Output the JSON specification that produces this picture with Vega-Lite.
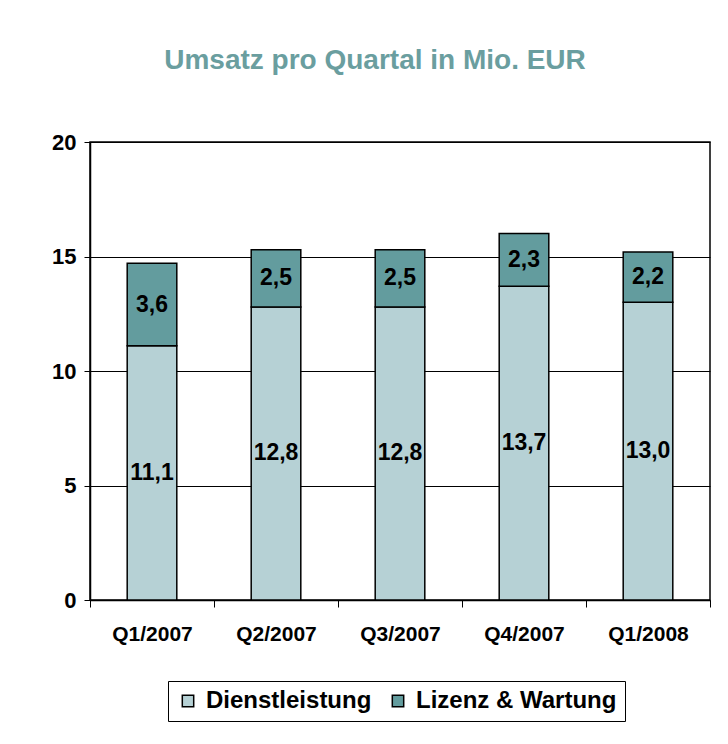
{
  "$schema": "https://vega.github.io/schema/vega-lite/v6.json",
  "width": 620,
  "height": 458,
  "autosize": {"type": "none"},
  "padding": {"left": 90, "top": 142, "right": 18, "bottom": 144},
  "background": "white",
  "title": {
    "text": "Umsatz pro Quartal in Mio. EUR",
    "font": "Liberation Sans",
    "fontSize": 28,
    "fontWeight": "bold",
    "color": "#6A9E9F",
    "anchor": "middle",
    "dx": -25,
    "offset": 56
  },
  "data": {
    "values": [
      {"quartal": "Q1/2007", "kategorie": "Dienstleistung", "wert": 11.1, "ord": 1},
      {"quartal": "Q1/2007", "kategorie": "Lizenz & Wartung", "wert": 3.6, "ord": 2},
      {"quartal": "Q2/2007", "kategorie": "Dienstleistung", "wert": 12.8, "ord": 1},
      {"quartal": "Q2/2007", "kategorie": "Lizenz & Wartung", "wert": 2.5, "ord": 2},
      {"quartal": "Q3/2007", "kategorie": "Dienstleistung", "wert": 12.8, "ord": 1},
      {"quartal": "Q3/2007", "kategorie": "Lizenz & Wartung", "wert": 2.5, "ord": 2},
      {"quartal": "Q4/2007", "kategorie": "Dienstleistung", "wert": 13.7, "ord": 1},
      {"quartal": "Q4/2007", "kategorie": "Lizenz & Wartung", "wert": 2.3, "ord": 2},
      {"quartal": "Q1/2008", "kategorie": "Dienstleistung", "wert": 13.0, "ord": 1},
      {"quartal": "Q1/2008", "kategorie": "Lizenz & Wartung", "wert": 2.2, "ord": 2}
    ]
  },
  "encoding": {
    "x": {
      "field": "quartal",
      "type": "nominal",
      "sort": null,
      "scale": {"paddingInner": 0, "paddingOuter": 0},
      "axis": {
        "title": null,
        "labelAngle": 0,
        "labelFont": "Liberation Sans",
        "labelFontSize": 21,
        "labelFontWeight": "bold",
        "labelColor": "black",
        "labelPadding": 16,
        "tickBand": "extent",
        "tickColor": "black",
        "tickSize": 7,
        "domainColor": "black",
        "domainWidth": 1.5,
        "grid": false
      }
    },
    "y": {
      "field": "wert",
      "type": "quantitative",
      "stack": "zero",
      "scale": {"domain": [0, 20]},
      "axis": {
        "title": null,
        "values": [0, 5, 10, 15, 20],
        "labelFont": "Liberation Sans",
        "labelFontSize": 22,
        "labelFontWeight": "bold",
        "labelColor": "black",
        "labelPadding": 8,
        "tickColor": "black",
        "tickSize": 6,
        "domainColor": "black",
        "domainWidth": 1.5,
        "grid": true,
        "gridColor": "black",
        "gridWidth": 1.2,
        "gridOpacity": 1
      }
    },
    "order": {"field": "ord", "type": "quantitative"}
  },
  "layer": [
    {
      "mark": {"type": "bar", "stroke": "black", "strokeWidth": 1.5, "width": {"band": 0.4}},
      "encoding": {
        "color": {
          "field": "kategorie",
          "type": "nominal",
          "scale": {"domain": ["Dienstleistung", "Lizenz & Wartung"], "range": ["#B6D1D5", "#639C9E"]},
          "legend": {
            "title": null,
            "orient": "none",
            "legendX": 78,
            "legendY": 539,
            "direction": "horizontal",
            "labelFont": "Liberation Sans",
            "labelFontSize": 24,
            "labelFontWeight": "bold",
            "labelColor": "black",
            "labelLimit": 400,
            "symbolType": "square",
            "symbolSize": 130,
            "symbolStrokeColor": "black",
            "symbolStrokeWidth": 1.5,
            "strokeColor": "black",
            "padding": 8,
            "columnPadding": 14,
            "labelOffset": 6
          }
        }
      }
    },
    {
      "mark": {"type": "text", "font": "Liberation Sans", "fontSize": 23, "fontWeight": "bold", "color": "black"},
      "encoding": {
        "y": {"field": "wert", "type": "quantitative", "stack": "zero", "bandPosition": 0.5},
        "text": {"field": "wert", "type": "quantitative", "format": ",.1f"}
      }
    }
  ],
  "config": {
    "view": {"stroke": "black", "strokeWidth": 1.5},
    "locale": {"number": {"decimal": ",", "thousands": ".", "grouping": [3], "currency": ["", " €"]}}
  }
}
